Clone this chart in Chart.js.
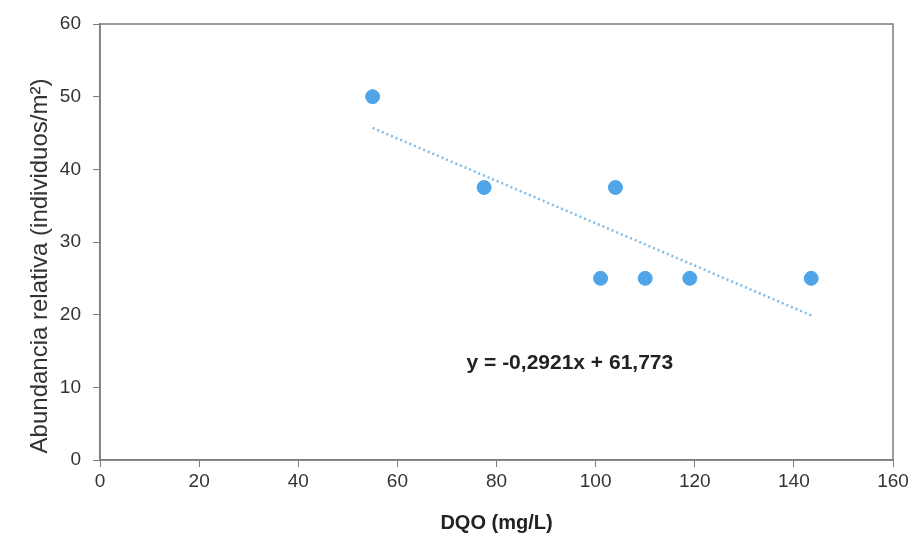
<!DOCTYPE html>
<html>
<head>
<meta charset="utf-8">
<script src="https://cdn.jsdelivr.net/npm/chart.js@4/dist/chart.umd.min.js"></script>
<style>
  html,body{margin:0;padding:0;background:#fff;}
  #wrap{width:920px;height:541px;position:relative;}
</style>
</head>
<body>
<div id="wrap"><canvas id="chart"></canvas></div>
<script>
// DQO vs abundancia
const dqo        = [55, 77.5, 101, 104, 110, 119, 143.5];
const abundancia = [50, 37.5, 25, 37.5, 25, 25, 25];

// línea de tendencia (extremos leídos)
const trendX = [55, 143.5];
const trendY = [45.7, 19.9];
const eqText = 'y = -0,2921x + 61,773';
const yTitle = 'Abundancia relativa (individuos/m²)';

const xTicks = [0, 20, 40, 60, 80, 100, 120, 140, 160];
const yTicks = [0, 10, 20, 30, 40, 50, 60];

const axisCol = '#7d7d7d';
const txtCol  = '#333';
const fam = '"Liberation Sans", Arial, sans-serif';

const frame = {
  id:'frame',
  afterDraw(c){
    const a=c.chartArea, ctx=c.ctx;
    ctx.save();
    ctx.strokeStyle=axisCol; ctx.lineWidth=1.5;
    ctx.strokeRect(a.left,a.top,a.right-a.left,a.bottom-a.top);
    // ecuación
    const x=c.scales.x.getPixelForValue(94.8), y=c.scales.y.getPixelForValue(13.3);
    ctx.fillStyle='#222';
    ctx.font='bold 21px '+fam;
    ctx.textAlign='center'; ctx.textBaseline='middle';
    ctx.fillText(eqText,x,y);
    // título eje y
    ctx.translate(40,266); ctx.rotate(-Math.PI/2);
    ctx.fillStyle=txtCol; ctx.font='24px '+fam;
    ctx.fillText(yTitle,0,0);
    ctx.restore();
  }
};

new Chart(document.getElementById('chart'),{
  type:'scatter',
  data:{datasets:[
    {label:'Abundancia',data:dqo.map((v,i)=>({x:v,y:abundancia[i]})),
     backgroundColor:'#4fa5e8',borderColor:'#4fa5e8',pointRadius:7,pointHoverRadius:7,order:1},
    {label:'Tendencia',type:'line',data:trendX.map((v,i)=>({x:v,y:trendY[i]})),
     borderColor:'#7fbbe6',borderWidth:2.5,borderDash:[2,3],pointRadius:0,fill:false,order:2}
  ]},
  options:{
    responsive:true,maintainAspectRatio:false,animation:false,
    layout:{padding:{left:22,top:24,right:27,bottom:2}},
    plugins:{legend:{display:false},tooltip:{enabled:false}},
    scales:{
      x:{type:'linear',min:0,max:160,
        afterBuildTicks:s=>{s.ticks=xTicks.map(v=>({value:v}));},
        afterFit:s=>{s.height=79;},
        grid:{drawOnChartArea:false,drawTicks:true,tickLength:7,color:axisCol},
        border:{color:axisCol,width:1.5},
        ticks:{color:txtCol,padding:3,font:{size:19,family:fam}},
        title:{display:true,text:'DQO (mg/L)',color:'#222',padding:{top:4},
          font:{size:20,weight:'bold',family:fam}}
      },
      y:{type:'linear',min:0,max:60,
        afterBuildTicks:s=>{s.ticks=yTicks.map(v=>({value:v}));},
        afterFit:s=>{s.width=78;},
        grid:{drawOnChartArea:false,drawTicks:true,tickLength:7,color:axisCol},
        border:{color:axisCol,width:1.5},
        ticks:{color:txtCol,padding:12,font:{size:19,family:fam}},
        title:{display:false}
      }
    }
  },
  plugins:[frame]
});
</script>
</body>
</html>
